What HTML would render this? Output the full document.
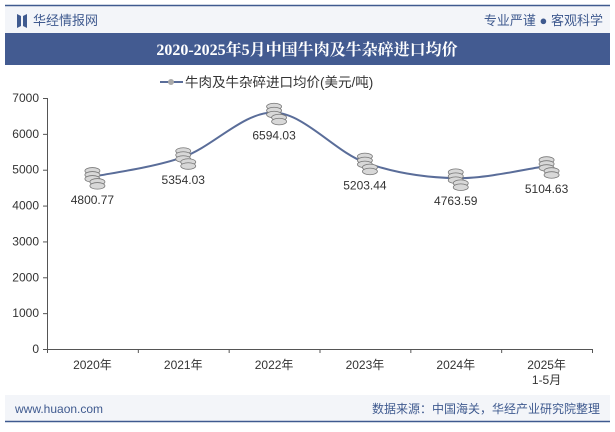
<!DOCTYPE html>
<html><head><meta charset="utf-8"><style>
body{margin:0;width:615px;height:427px;background:#fff;overflow:hidden;font-family:"Liberation Sans","Noto Sans CJK SC",sans-serif}
</style></head><body>
<svg width="615" height="427" viewBox="0 0 615 427" font-family="Liberation Sans, Noto Sans CJK SC, sans-serif">
<rect x="5" y="6" width="605" height="27" fill="#f3f5f9"/>
<line x1="5" y1="5.5" x2="610" y2="5.5" stroke="#3f5a8f" stroke-width="1.5"/>
<path d="M17 14 L21 16 L21 26 L17 28 Z M27 14 L23 16 L23 26 L27 28 Z" fill="#3f5a8f"/>
<text x="33" y="25" font-size="13" fill="#3f5a8f">华经情报网</text>
<text x="603" y="25" font-size="13" fill="#3f5a8f" text-anchor="end">专业严谨 ● 客观科学</text>
<rect x="5" y="33" width="605" height="32" fill="#435b91"/>
<text x="307" y="55" font-size="16" font-weight="bold" fill="#fff" text-anchor="middle" font-family="Liberation Serif, Noto Serif CJK SC, serif">2020-2025年5月中国牛肉及牛杂碎进口均价</text>
<g>
<line x1="160" y1="82" x2="183" y2="82" stroke="#5a6d99" stroke-width="2"/>
<circle cx="171" cy="82" r="3" fill="#aaa"/>
<text x="185" y="87" font-size="13.5" fill="#333">牛肉及牛杂碎进口均价(美元/吨)</text>
</g>
<g id="axes"></g>
<g id="plot"></g>
<rect x="5" y="395" width="605" height="26" fill="#f3f5f9"/>
<line x1="5" y1="421.5" x2="610" y2="421.5" stroke="#3f5a8f" stroke-width="1.5"/>
<text x="15" y="413" font-size="12" fill="#3f5a8f">www.huaon.com</text>
<text x="600" y="413" font-size="12" fill="#3f5a8f" text-anchor="end">数据来源：中国海关，华经产业研究院整理</text>
</svg>
<script>
const categories=["2020年","2021年","2022年","2023年","2024年","2025年\n1-5月"];
const values=[4800.77,5354.03,6594.03,5203.44,4763.59,5104.63];
const yTicks=[0,1000,2000,3000,4000,5000,6000,7000];
const NS="http://www.w3.org/2000/svg";
const x0=47,x1=592,y0=349,yTop=98,yMax=7000;
const bw=(x1-x0)/categories.length;
const X=i=>x0+bw*(i+0.5);
const Y=v=>y0-(v/yMax)*(y0-yTop);
function el(t,a,p){const e=document.createElementNS(NS,t);for(const k in a)e.setAttribute(k,a[k]);p.appendChild(e);return e;}
const ax=document.getElementById('axes'),pl=document.getElementById('plot');
const ya=el('line',{x1:x0+.5,y1:yTop,x2:x0+.5,y2:y0,stroke:'#555'},ax);

yTicks.forEach(v=>{
 el('line',{x1:x0-4,x2:x0,y1:Y(v)+.5,y2:Y(v)+.5,stroke:'#555'},ax);
 const t=el('text',{x:x0-8,y:Y(v)+4,'font-size':12,fill:'#333','text-anchor':'end'},ax);t.textContent=v;
 
});
const xa=el('line',{x1:x0,y1:y0+.5,x2:x1,y2:y0+.5,stroke:'#555'},ax);

for(let i=0;i<=categories.length;i++)el('line',{x1:x0+bw*i+.5,x2:x0+bw*i+.5,y1:y0,y2:y0+4,stroke:'#555'},ax);
categories.forEach((c,i)=>{
 c.split('\n').forEach((s,j)=>{
  const t=el('text',{x:X(i),y:y0+20+j*15,'font-size':12,fill:'#333','text-anchor':'middle'},ax);t.textContent=s;
  
 });
});
const P=values.map((v,i)=>[X(i),Y(v)]);
let d=`M${P[0][0]},${P[0][1]}`;
for(let i=0;i<P.length-1;i++){
 const p0=P[i-1]||P[i],p1=P[i],p2=P[i+1],p3=P[i+2]||P[i+1],k=6;
 d+=` C${p1[0]+(p2[0]-p0[0])/k},${p1[1]+(p2[1]-p0[1])/k} ${p2[0]-(p3[0]-p1[0])/k},${p2[1]-(p3[1]-p1[1])/k} ${p2[0]},${p2[1]}`;
}
const line=el('path',{d:d,fill:'none',stroke:'#5a6d99','stroke-width':2},pl);

P.forEach((p,i)=>{
 const g=el('g',{},pl);
 
 [[0,-6],[0,-2],[0,2],[5,5],[5,9]].forEach(o=>{
  el('ellipse',{cx:p[0]+o[0],cy:p[1]+o[1],rx:7.5,ry:3.3,fill:'#d8d8d8',stroke:'#777','stroke-width':0.8},g);
 });
 const t=el('text',{x:p[0],y:p[1]+27,'font-size':12,fill:'#333','text-anchor':'middle'},pl);
 t.textContent=values[i].toFixed(2);
 
});
</script>
</body></html>
